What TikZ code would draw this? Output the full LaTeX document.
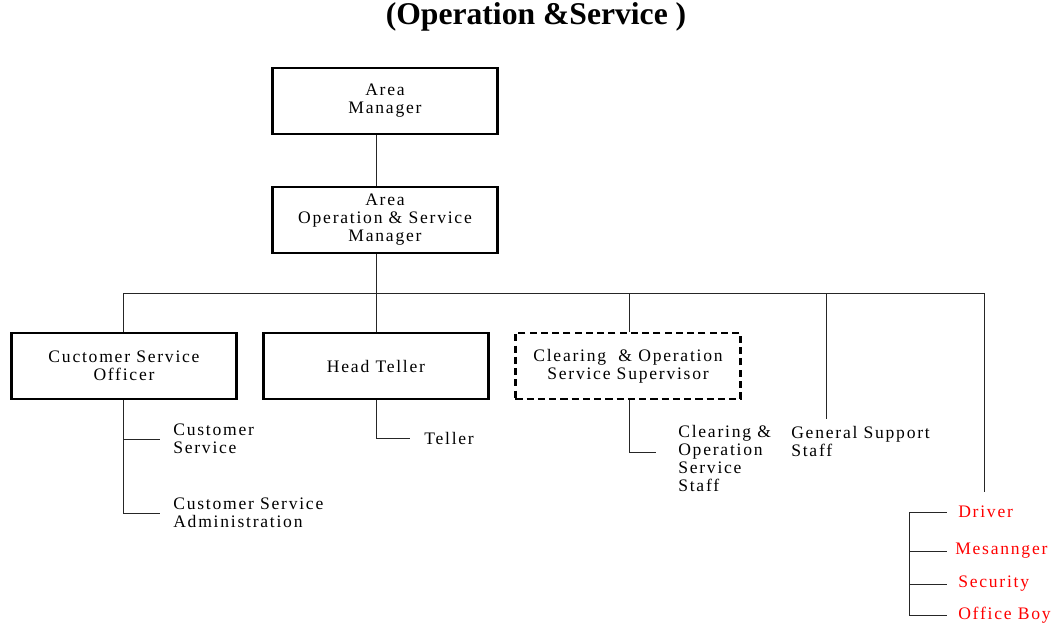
\documentclass[tikz,border=0pt]{standalone}
\usepackage{fontspec}
\setmainfont{Liberation Serif}[LetterSpace=10]
\newfontfamily\headfont{Liberation Serif}
\usetikzlibrary{positioning}

\begin{document}
\begin{tikzpicture}
  [x=0.025cm,y=-0.025cm,
   every node/.style={font=\fontsize{12.5}{12.8}\selectfont,inner sep=0pt},
   box/.style={draw,line width=2pt,minimum width=5.625cm,minimum height=1.65cm,align=center},
   dbox/.style={box,dash pattern=on 5pt off 3pt},
   item/.style={anchor=west,align=left},
   reditem/.style={item,text=red},
   link/.style={draw=black!85,line width=0.7pt}]
  \useasboundingbox (0,0) rectangle (1059,624);

  % title
  \node[font=\headfont\bfseries\fontsize{22.5}{26}\selectfont,anchor=base] (title) at (536,25) {(Operation \&Service )};

  % boxes
  \node[box] (am) at (385,101) {Area\\Manager};
  \node[box] (aosm) at (385,220) {Area\\Operation \& Service\\Manager};
  \node[box] (cso) at (124,366) {Cuctomer Service\\Officer};
  \node[box] (ht) at (376,366) {Head Teller};
  \node[dbox] (csos) at (628,366) {Clearing \ \& Operation\\Service Supervisor};

  % staff
  \node[item] (cs) at (173,439) {Customer\\Service};
  \node[item] (csa) at (173,513) {Customer Service\\Administration};
  \node[item] (tl) at (424,438) {Teller};
  \node[item] (cost) at (678,458) {Clearing \&\\Operation\\Service\\Staff};
  \node[item] (gs) at (791,441) {General Support\\Staff};
  \node[reditem] (dr) at (958,512) {Driver};
  \node[reditem] (ms) at (955,551) {Mesannger};
  \node[reditem] (sc) at (958,584) {Security};
  \node[reditem] (ob) at (958,615) {Office Boy};

  % bus
  \coordinate (top) at (376,293);
  \coordinate (b1) at (123,293);
  \coordinate (b3) at (629,293);
  \coordinate (b4) at (826,293);
  \coordinate (b5) at (984,293);
  \coordinate (b4e) at (826,419);
  \coordinate (b5e) at (984,492);
  \coordinate (c3) at (656,452);
  \coordinate (rs) at (909,512);

  \path[link] (am.south -| top) -- (aosm.north -| top);
  \path[link] (aosm.south -| top) -- (top);
  \path[link] (b1) -- (b5);
  \path[link] (b1) -- (cso.north -| b1);
  \path[link] (top) -- (ht.north);
  \path[link] (b3) -- (csos.north -| b3);
  \path[link] (b4) -- (b4e);
  \path[link] (b5) -- (b5e);

  % branches
  \path[link] (cso.south -| b1) -- (b1 |- csa.west);
  \path[link,shorten >=0.325cm] (b1 |- cs.west) -- (cs.west);
  \path[link,shorten >=0.325cm] (b1 |- csa.west) -- (csa.west);
  \path[link,shorten >=0.35cm] (ht.south) |- (tl.west);
  \path[link] (csos.south -| b3) |- (c3);

  \path[link] (rs) -- (rs |- ob.west);
  \path[link,shorten >=0.275cm] (rs |- dr.west) -- (dr.west);
  \path[link,shorten >=0.2cm] (rs |- ms.west) -- (ms.west);
  \path[link,shorten >=0.275cm] (rs |- sc.west) -- (sc.west);
  \path[link,shorten >=0.275cm] (rs |- ob.west) -- (ob.west);
\end{tikzpicture}
\end{document}
